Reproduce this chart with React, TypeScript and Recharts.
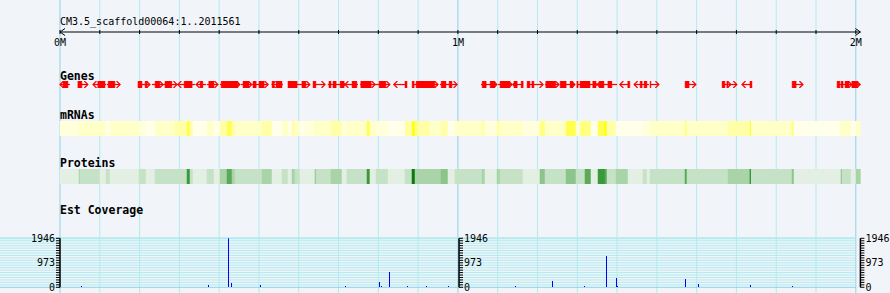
import { ComposedChart, XAxis, YAxis, ReferenceLine, ReferenceArea, Bar, Cell } from 'recharts'

const W = 890
const H = 293
const MONO = '"DejaVu Sans Mono", monospace'
const RED = '#ff0000'

const scaffoldName = 'CM3.5_scaffold00064:1..2011561'
const scaffoldKb = 2011.561

// ruler ticks, kb
const rulerTicks = [0, 100, 200, 300, 400, 500, 600, 700, 800, 900, 1000, 1100, 1200, 1300, 1400, 1500, 1600, 1700, 1800, 1900, 2000]
const majorTicks = [0, 1000, 2000]

// genes: [start kb, end kb, strand]
const genes: [number, number, number][] = [
  [0, 25, -1], [45, 70, 1], [83, 116, -1], [118, 151, 1], [196, 226, 1], [231, 259, 1], [259, 294, 1],
  [296, 339, -1], [342, 367, -1], [369, 397, 1], [402, 452, 1], [455, 482, 1], [483, 523, 1], [533, 560, -1],
  [573, 628, 1], [636, 666, 1], [673, 716, 1], [716, 749, -1], [754, 792, 1], [792, 829, 1], [839, 872, -1],
  [885, 950, 1], [955, 998, 1], [1058, 1098, 1], [1101, 1136, 1], [1138, 1164, -1], [1174, 1214, 1],
  [1219, 1254, 1], [1257, 1294, 1], [1299, 1349, 1], [1350, 1400, -1], [1407, 1432, -1], [1443, 1480, -1],
  [1483, 1505, 1], [1571, 1598, 1], [1664, 1686, 1], [1686, 1701, 1], [1714, 1739, -1], [1840, 1867, 1],
  [1953, 1990, 1], [1990, 2011, 1],
]

// exon boxes: [start kb, end kb]
const exons: [number, number][] = [
  [7.5, 20], [45, 55], [95, 113], [121, 138], [196, 206], [214, 219], [239, 251], [264, 281], [312, 332],
  [352, 359], [374, 387], [405, 447], [460, 475], [485, 493], [500, 513], [533, 538], [543, 558], [573, 596],
  [608, 618], [636, 643], [676, 681], [686, 694], [704, 714], [734, 746], [756, 782], [802, 819], [867, 872],
  [885, 890], [895, 942], [958, 970], [978, 985], [1061, 1071], [1081, 1093], [1106, 1131], [1141, 1149],
  [1159, 1164], [1174, 1181], [1186, 1191], [1221, 1246], [1257, 1272], [1282, 1289], [1299, 1302],
  [1307, 1332], [1339, 1347], [1355, 1367], [1377, 1387], [1427, 1432], [1458, 1463], [1468, 1475],
  [1483, 1485], [1571, 1581], [1664, 1671], [1676, 1679], [1734, 1739], [1840, 1850], [1953, 1960],
  [1963, 1968], [1973, 1983], [1990, 2005],
]

// density bins shared by mRNA / protein tracks
const binEdges = [
  0, 47.8, 50.3, 100.5, 115.6, 125.7, 198.5, 216.1, 238.8, 289.0, 319.2, 326.7, 334.3, 369.4, 387.0, 402.1,
  419.7, 432.3, 439.8, 507.7, 532.8, 557.9, 573.0, 583.0, 590.6, 603.2, 615.7, 640.9, 643.4, 681.0, 708.7,
  721.2, 771.5, 779.0, 794.2, 824.3, 867.1, 884.6, 892.2, 899.7, 929.9, 957.5, 975.1, 992.7, 1060.6, 1068.1,
  1098.3, 1105.8, 1163.6, 1206.3, 1218.9, 1271.7, 1296.8, 1306.9, 1319.4, 1334.5, 1352.1, 1369.7, 1374.7,
  1397.3, 1427.5, 1465.2, 1475.2, 1482.8, 1570.7, 1575.8, 1678.8, 1734.1, 1736.6, 1839.7, 1844.7, 1962.8,
  1965.3, 1987.9, 2000.5, 2011.561,
]
const mrnaLevels = [
  1, 2, 2, 2, 0, 2, 1, 0, 2, 3, 5, 3, 0, 2, 0, 3, 5, 3, 2, 3, 0, 2, 0, 3, 2, 0, 1, 3, 2, 3,
  1, 2, 5, 2, 1, 0, 3, 6, 4, 3, 2, 3, 0, 2, 3, 1, 3, 2, 1, 4, 2, 5, 1, 4, 4, 0, 5, 6, 3, 0,
  0, 1, 1, 2, 4, 2, 3, 6, 2, 4, 0, 3, 2, 0, 2,
]
const proteinLevels = [
  0, 2, 1, 0, 1, 0, 1, 0, 1, 1, 5, 1, 0, 1, 0, 2, 4, 2, 1, 2, 0, 1, 0, 2, 1, 0, 0, 3, 1, 2,
  0, 1, 5, 0, 1, 0, 1, 6, 2, 2, 2, 3, 0, 1, 2, 0, 2, 1, 0, 3, 1, 3, 1, 1, 4, 0, 5, 4, 1, 2,
  0, 1, 0, 1, 4, 1, 2, 6, 1, 3, 0, 3, 1, 0, 2,
]
const mrnaColors = ['#ffffea', '#ffffdc', '#ffffc8', '#ffffa8', '#ffff80', '#ffff50', '#ffff14']
const proteinColors = ['#e2efe2', '#c6e2c6', '#a8d4a8', '#8cc48c', '#5aaa5a', '#3a9a3a', '#0a7a0a']

// EST coverage
const covKb = [
  54.5, 201.8, 335.0, 346.1, 372.7, 423.0, 430.5, 503.4, 717.0, 802.5, 808.5, 827.6, 872.8, 903.0, 921.6,
  933.2, 975.9, 1074.9, 1145.3, 1238.3, 1256.6, 1280.0, 1319.4, 1373.0, 1398.1, 1401.6, 1572.5, 1604.1,
  1735.9, 1840.4,
]
const covValues = [
  50, 30, 30, 30, 100, 1946, 180, 90, 40, 220, 40, 620, 40, 30, 60, 30, 60, 30, 40, 260, 30, 30, 40, 1230,
  380, 40, 320, 140, 90, 40,
]
const covRed = [1074.9]
const covMax = 1946
const covTicks = [
  0, 97.3, 194.6, 291.9, 389.2, 486.5, 583.8, 681.1, 778.4, 875.7, 973, 1070.3, 1167.6, 1264.9, 1362.2,
  1459.5, 1556.8, 1654.1, 1751.4, 1848.7, 1946,
]
const covLabeled = [0, 973, 1946]

const coverage = covKb.map((kb, i) => ({ kb, cov: covValues[i] }))

const trackMargin = { top: 0, right: 29.6, bottom: 0, left: 60 }

function Layer({ top, height, children }: { top: number; height: number; children: any }) {
  return <div style={{ position: 'absolute', left: 0, top, width: W, height }}>{children}</div>
}

function Track({ top, height, children }: { top: number; height: number; children: any }) {
  return (
    <Layer top={top} height={height}>
      <ComposedChart width={W} height={height} margin={trackMargin} data={coverage}>
        <XAxis type="number" dataKey="kb" domain={[0, scaffoldKb]} hide allowDataOverflow />
        <YAxis type="number" domain={[0, 1]} hide allowDataOverflow />
        {children}
      </ComposedChart>
    </Layer>
  )
}

const geneShape = (strand: number) => (p: any) => {
  const { x, y, width, height } = p
  const mid = y + height / 2
  const tip = strand > 0 ? x + width : x
  const back = strand > 0 ? tip - 3.5 : tip + 3.5
  return (
    <g>
      <line x1={x} x2={x + width} y1={mid} y2={mid} stroke={RED} strokeWidth={1.2} />
      <polyline points={`${back},${y} ${tip},${mid} ${back},${y + height}`} fill="none" stroke={RED} strokeWidth={1.2} />
    </g>
  )
}

function RulerTick(props: any) {
  const { x, y, payload } = props
  const v = payload.value
  if (v === scaffoldKb) {
    return <polyline points={`${x - 5},${y - 3.5} ${x},${y} ${x - 5},${y + 3.5}`} fill="none" stroke="#000" />
  }
  return (
    <g>
      <line x1={x} x2={x} y1={y - 2} y2={y + 2} stroke="#000" />
      {v === 0 && <polyline points={`${x + 5},${y - 3.5} ${x},${y} ${x + 5},${y + 3.5}`} fill="none" stroke="#000" />}
      {v % 1000 === 0 && (
        <text x={x} y={y + 14} textAnchor="middle" fontFamily={MONO} fontSize={10} fill="#000">
          {`${v / 1000}M`}
        </text>
      )}
    </g>
  )
}

const covLabel = (v: number) => (covLabeled.includes(v) ? String(v) : '')
const covTick = { fontSize: 10, fill: '#000', fontFamily: MONO }

function CovAxis(props: any) {
  return (
    <YAxis
      type="number"
      domain={[0, covMax]}
      ticks={covTicks}
      interval={0}
      tickFormatter={covLabel}
      tickSize={4}
      tickMargin={1}
      tick={covTick}
      tickLine={{ stroke: '#000' }}
      axisLine={{ stroke: '#000', strokeWidth: 1.5 }}
      allowDataOverflow
      {...props}
    />
  )
}

export default function App() {
  return (
    <div style={{ position: 'relative', width: W, height: H, background: '#f1f4f9', overflow: 'hidden' }}>
      <style>{'body{margin:0}'}</style>

      {/* vertical grid */}
      <Track top={0} height={H}>
        {rulerTicks.map((t) => (
          <ReferenceLine
            key={t}
            x={t}
            stroke={majorTicks.includes(t) ? '#8fd2ea' : '#b0ebf0'}
            strokeWidth={1}
          />
        ))}
      </Track>

      {/* coverage horizontal grid */}
      <Layer top={228} height={65}>
        <ComposedChart width={W} height={65} margin={{ top: 10.3, right: 34.3, bottom: 5.7, left: 0 }} data={coverage}>
          <XAxis type="number" dataKey="kb" domain={[0, scaffoldKb]} hide allowDataOverflow />
          <YAxis type="number" domain={[0, covMax]} hide allowDataOverflow />
          {covTicks.map((t) => (
            <ReferenceLine
              key={t}
              y={t}
              stroke={t === 0 ? '#8fd2ea' : '#b0ebf0'}
              strokeWidth={t === covMax ? 2 : 1}
            />
          ))}
        </ComposedChart>
      </Layer>

      {/* ruler */}
      <Layer top={0} height={60}>
        <ComposedChart width={W} height={60} margin={trackMargin} data={coverage}>
          <XAxis
            type="number"
            dataKey="kb"
            domain={[0, scaffoldKb]}
            ticks={[...rulerTicks, scaffoldKb]}
            interval={0}
            tick={<RulerTick />}
            tickLine={false}
            tickSize={0}
            tickMargin={0}
            height={28}
            axisLine={{ stroke: '#000' }}
            allowDataOverflow
          />
          <YAxis type="number" domain={[0, 1]} hide allowDataOverflow />
        </ComposedChart>
      </Layer>

      {/* genes */}
      <Track top={81} height={7}>
        {genes.map(([s, e, strand], i) => (
          <ReferenceArea key={`g${i}`} x1={s} x2={e} fill="none" shape={geneShape(strand)} />
        ))}
        {exons.map(([s, e], i) => (
          <ReferenceArea key={`e${i}`} x1={s} x2={e} fill={RED} fillOpacity={1} stroke={RED} strokeWidth={0.5} />
        ))}
      </Track>

      {/* mRNAs */}
      <Track top={121} height={15}>
        {mrnaLevels.map((lv, i) => (
          <ReferenceArea
            key={i}
            x1={binEdges[i]}
            x2={binEdges[i + 1]}
            fill={mrnaColors[lv]}
            fillOpacity={1}
            stroke={mrnaColors[lv]}
            strokeWidth={0.5}
          />
        ))}
      </Track>

      {/* proteins */}
      <Track top={169} height={15}>
        {proteinLevels.map((lv, i) => (
          <ReferenceArea
            key={i}
            x1={binEdges[i]}
            x2={binEdges[i + 1]}
            fill={proteinColors[lv]}
            fillOpacity={1}
            stroke={proteinColors[lv]}
            strokeWidth={0.5}
          />
        ))}
      </Track>

      {/* EST coverage */}
      <Layer top={228} height={65}>
        <ComposedChart width={W} height={65} margin={{ top: 10.3, right: 0, bottom: 5.7, left: 20 }} data={coverage}>
          <XAxis type="number" dataKey="kb" domain={[0, scaffoldKb]} hide allowDataOverflow />
          {CovAxis({ yAxisId: 'l', orientation: 'left', width: 40 })}
          {CovAxis({ yAxisId: 'r', orientation: 'right', width: 29.6 })}
          <Bar yAxisId="l" dataKey="cov" barSize={1} fill="#0000ff" isAnimationActive={false}>
            {coverage.map((d, i) => (
              <Cell key={i} fill={covRed.includes(d.kb) ? RED : '#0000ff'} shapeRendering="crispEdges" />
            ))}
          </Bar>
        </ComposedChart>
      </Layer>

      {/* middle coverage axis at 1M */}
      <Layer top={228} height={65}>
        <ComposedChart width={W} height={65} margin={{ top: 10.3, right: 391, bottom: 5.7, left: 60 }} data={coverage}>
          <XAxis type="number" dataKey="kb" domain={[0, 1000]} hide allowDataOverflow />
          {CovAxis({ orientation: 'right', width: 40 })}
        </ComposedChart>
      </Layer>

      {/* labels */}
      <svg width={W} height={H} style={{ position: 'absolute', left: 0, top: 0, pointerEvents: 'none' }}>
        <text x={60} y={24.5} fontFamily={MONO} fontSize={10} fill="#000">{scaffoldName}</text>
        <text x={60} y={80} fontFamily={MONO} fontSize={11.5} fontWeight="bold" fill="#000">Genes</text>
        <text x={60} y={119} fontFamily={MONO} fontSize={11.5} fontWeight="bold" fill="#000">mRNAs</text>
        <text x={60} y={166.5} fontFamily={MONO} fontSize={11.5} fontWeight="bold" fill="#000">Proteins</text>
        <text x={60} y={214} fontFamily={MONO} fontSize={11.5} fontWeight="bold" fill="#000">Est Coverage</text>
      </svg>
    </div>
  )
}
